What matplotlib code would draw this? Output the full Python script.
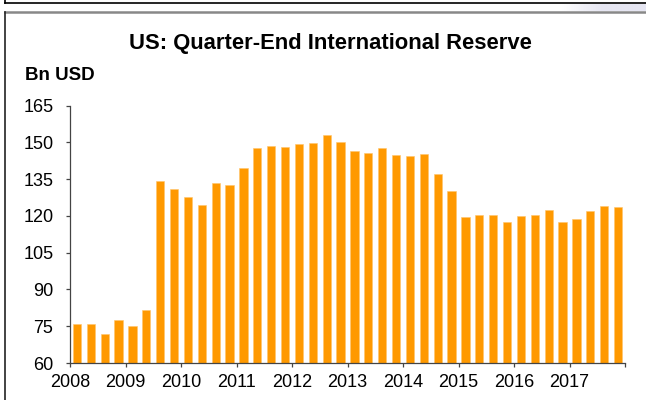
import matplotlib
matplotlib.use("Agg")
import matplotlib.pyplot as plt
import matplotlib.transforms as mtransforms
from matplotlib.lines import Line2D
import numpy as np

# quarter-end reserves, 2008Q1 .. 2017Q4 (Bn USD)
years = [2008, 2009, 2010, 2011, 2012, 2013, 2014, 2015, 2016, 2017]
reserves = [
    75.8, 75.8, 71.7, 77.7,
    74.9, 81.5, 134.2, 130.8,
    127.6, 124.4, 133.3, 132.5,
    139.4, 147.7, 148.7, 148.1,
    149.2, 149.9, 153.1, 150.2,
    146.4, 145.7, 147.9, 144.7,
    144.3, 145.3, 137.2, 130.2,
    119.4, 120.4, 120.2, 117.6,
    119.8, 120.2, 122.4, 117.4,
    118.7, 122.1, 124.0, 123.5,
]
y_ticks = [60, 75, 90, 105, 120, 135, 150, 165]

plt.rcParams["font.family"] = ["Liberation Sans", "DejaVu Sans"]

fig = plt.figure(figsize=(6.46, 4.0), dpi=100)
ax = fig.add_axes([70 / 646, 1 - 363 / 400, 555 / 646, (363 - 105.6) / 400])

x = np.arange(len(reserves))
ax.bar(x, reserves, width=0.6, color="#FF9900", edgecolor="#FFC46A", linewidth=0.4)

ax.set_xlim(-0.5, len(reserves) - 0.5)
ax.set_ylim(60, 165)
ax.set_yticks(y_ticks)

year_pos = [-0.5 + 4 * i for i in range(len(years) + 1)]
ax.set_xticks(year_pos)
ax.set_xticklabels([str(y) for y in years] + [""])
shift = mtransforms.ScaledTranslation(0.06, 0, fig.dpi_scale_trans)
for lbl in ax.get_xticklabels():
    lbl.set_transform(lbl.get_transform() + shift)

for side in ["top", "right"]:
    ax.spines[side].set_visible(False)
for side in ["left", "bottom"]:
    ax.spines[side].set_color("#444444")
    ax.spines[side].set_linewidth(0.9)
ax.tick_params(axis="y", direction="out", length=3, width=0.9, color="#444444",
               pad=9, labelsize=13)
ax.tick_params(axis="x", direction="out", length=3, width=0.9, color="#444444",
               pad=5, labelsize=13)

fig.text(330 / 646, 1 - 43 / 400, "US: Quarter-End International Reserve",
         ha="center", va="center", fontsize=15.8, fontweight="bold")
fig.text(25 / 646, 1 - 75 / 400, "Bn USD", ha="left", va="center",
         fontsize=13.5, fontweight="bold")

# surrounding frame bits
grad = np.linspace(0, 1, 100).reshape(1, -1)
band = fig.add_axes([560 / 646, 1 - 11 / 400, 86 / 646, 7 / 400])
band.imshow(grad, aspect="auto", cmap=matplotlib.colors.LinearSegmentedColormap.from_list(
    "band", ["#FFFFFF", "#E6E6F2", "#E6E6F2"]))
band.axis("off")
fig.add_artist(Line2D([5 / 646, 1], [1 - 3 / 400, 1 - 3 / 400], color="black", lw=1.2,
                      transform=fig.transFigure))
fig.add_artist(Line2D([5 / 646, 5 / 646], [1, 1 - 3 / 400], color="black", lw=1.2,
                      transform=fig.transFigure))
fig.add_artist(Line2D([5 / 646, 1], [1 - 11.5 / 400, 1 - 11.5 / 400], color="#888888",
                      lw=1.8, transform=fig.transFigure))
fig.add_artist(Line2D([5 / 646, 5 / 646], [1 - 11.5 / 400, 0], color="#222222", lw=1.2,
                      transform=fig.transFigure))

fig.savefig("out.png", dpi=100)
